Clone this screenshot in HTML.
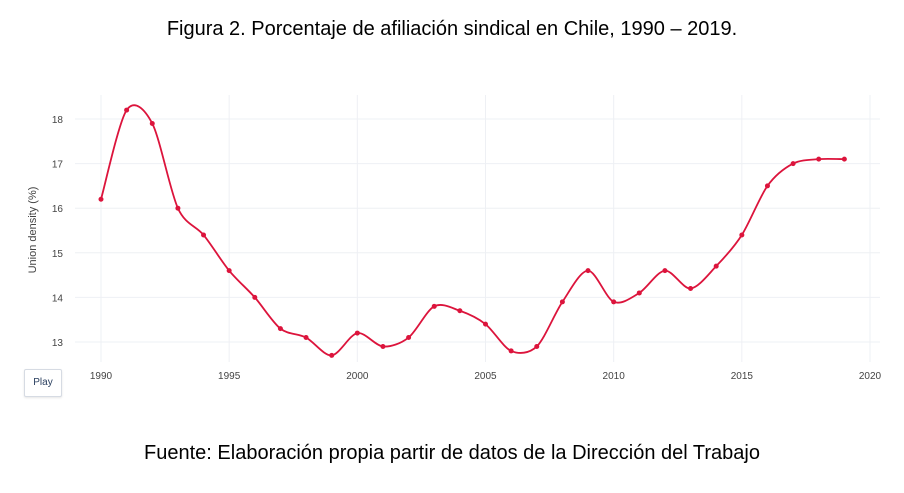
<!DOCTYPE html>
<html><head><meta charset="utf-8">
<style>
body{margin:0;background:#fff;width:904px;height:493px;overflow:hidden;font-family:"Liberation Sans",sans-serif}
.title{position:absolute;top:18px;left:0;width:904px;text-align:center;font-size:20px;color:#000}
.source{position:absolute;top:442px;left:0;width:904px;text-align:center;font-size:20px;color:#000}
.play{position:absolute;left:24px;top:369px;width:36px;height:26px;border:1px solid #d6dbe3;border-radius:2px;background:#fff;font-size:10px;color:#2a3f5f;text-align:center;line-height:26px;box-shadow:0 1px 2px rgba(0,0,0,.1)}
svg{position:absolute;left:0;top:0}
</style></head><body>
<div class="title">Figura 2. Porcentaje de afiliación sindical en Chile, 1990 – 2019.</div>
<svg id="chart" width="904" height="493"></svg>
<div class="play">Play</div>
<div class="source">Fuente: Elaboración propia partir de datos de la Dirección del Trabajo</div>
<script>
const years=[1990,1991,1992,1993,1994,1995,1996,1997,1998,1999,2000,2001,2002,2003,2004,2005,2006,2007,2008,2009,2010,2011,2012,2013,2014,2015,2016,2017,2018,2019];
const density=[16.2,18.2,17.9,16.0,15.4,14.6,14.0,13.3,13.1,12.7,13.2,12.9,13.1,13.8,13.7,13.4,12.8,12.9,13.9,14.6,13.9,14.1,14.6,14.2,14.7,15.4,16.5,17.0,17.1,17.1];
const xTicks=[1990,1995,2000,2005,2010,2015,2020];
const yTicks=[13,14,15,16,17,18];
const NS="http://www.w3.org/2000/svg";
const svg=document.getElementById('chart');
const x=v=>101+(v-1990)*(870-101)/30;
const y=v=>342-(v-13)*(342-119)/5;
function mk(t,a){const e=document.createElementNS(NS,t);for(const k in a)e.setAttribute(k,a[k]);svg.appendChild(e);return e;}
xTicks.forEach(t=>{
 const g=mk('line',{x1:x(t),x2:x(t),y1:95,y2:362,stroke:'#eef0f4','stroke-width':1});
 
 
 const l=mk('text',{x:x(t),y:379,'text-anchor':'middle','font-size':10,fill:'#444'});
 l.textContent=t;
 
 
});
yTicks.forEach(t=>{
 const g=mk('line',{x1:75,x2:880,y1:y(t),y2:y(t),stroke:'#eef0f4','stroke-width':1});
 
 
 const l=mk('text',{x:63,y:y(t)+4,'text-anchor':'end','font-size':10,fill:'#444'});
 l.textContent=t;
 
 
});
const yt=mk('text',{x:36,y:230,'text-anchor':'middle','font-size':11,fill:'#444',transform:'rotate(-90 36 230)'});
yt.textContent='Union density (%)';


const P=years.map((yr,i)=>[x(yr),y(density[i])]);
let d='M'+P[0][0]+','+P[0][1];
const s=0.15;
for(let i=0;i<P.length-1;i++){
 const p0=P[Math.max(0,i-1)],p1=P[i],p2=P[i+1],p3=P[Math.min(P.length-1,i+2)];
 const c1=[p1[0]+(p2[0]-p0[0])*s,p1[1]+(p2[1]-p0[1])*s];
 const c2=[p2[0]-(p3[0]-p1[0])*s,p2[1]-(p3[1]-p1[1])*s];
 d+=` C${c1[0]},${c1[1]} ${c2[0]},${c2[1]} ${p2[0]},${p2[1]}`;
}
const line=mk('path',{d:d,fill:'none',stroke:'#dc143c','stroke-width':1.8});


P.forEach(p=>{
 const c=mk('circle',{cx:p[0],cy:p[1],r:2.5,fill:'#dc143c'});
 
 
});
</script>
</body></html>
